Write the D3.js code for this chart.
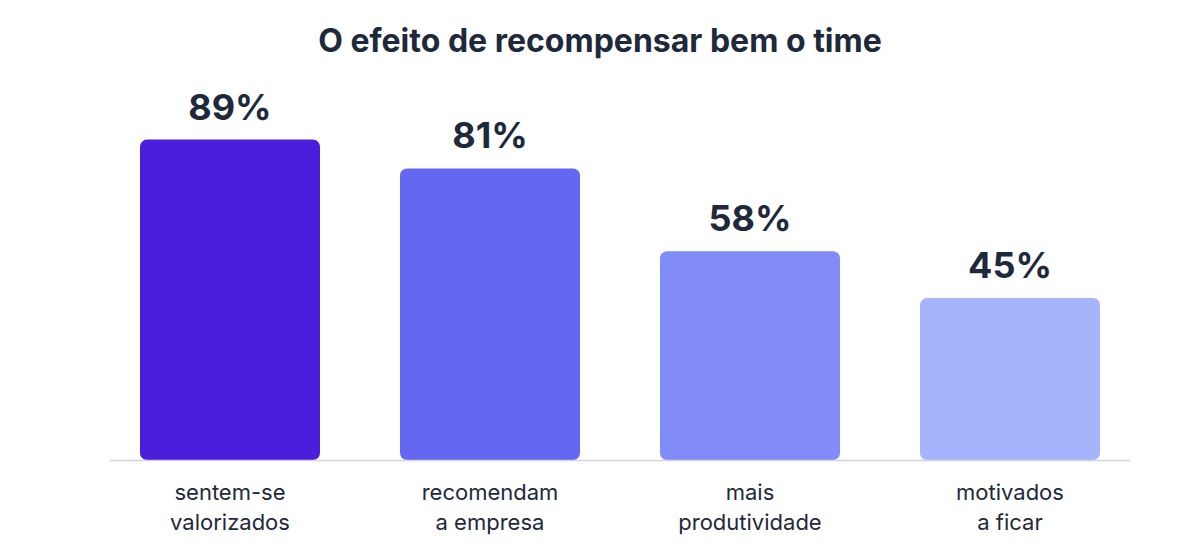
<!DOCTYPE html>
<html>
<head>
<meta charset="utf-8">
<script src="https://cdn.jsdelivr.net/npm/d3@7"></script>
<style>
  body { margin: 0; background: #fff; }
  svg { display: block; font-family: Inter, "Noto Sans", sans-serif; }
</style>
</head>
<body>
<svg id="chart" width="1200" height="560"></svg>
<script>
const categories = [["sentem-se", "valorizados"], ["recomendam", "a empresa"], ["mais", "produtividade"], ["motivados", "a ficar"]];
const values = [89, 81, 58, 45];
const colors = ["#4b1edc", "#6467f1", "#818cf8", "#a5b4fc"];

const svg = d3.select("#chart");
const baseY = 460;

const x = d3.scaleBand()
    .domain(d3.range(values.length))
    .range([110, 1130])
    .paddingInner(0.3077)
    .paddingOuter(0.1154);

const y = d3.scaleLinear().domain([0, 100]).range([baseY, 100]);

// titulo
svg.append("text")
    .attr("x", 600).attr("y", 52)
    .attr("text-anchor", "middle")
    .attr("font-size", 32).attr("font-weight", 700)
    .attr("fill", "#1e293b")
    .text("O efeito de recompensar bem o time");

svg.selectAll("rect.bar")
    .data(values)
    .join("rect")
    .attr("class", "bar")
    .attr("x", (d, i) => x(i))
    .attr("y", d => y(d))
    .attr("width", x.bandwidth())
    .attr("height", d => baseY - y(d))
    .attr("rx", 7)
    .attr("fill", (d, i) => colors[i]);

// linha base
svg.append("line")
    .attr("x1", 110).attr("x2", 1130)
    .attr("y1", baseY + 0.5).attr("y2", baseY + 0.5)
    .attr("stroke", "#d4d4dc").attr("stroke-width", 1.5);

svg.selectAll("text.val")
    .data(values)
    .join("text")
    .attr("class", "val")
    .attr("x", (d, i) => x(i) + x.bandwidth() / 2)
    .attr("y", d => y(d) - 20)
    .attr("text-anchor", "middle")
    .attr("font-size", 36).attr("font-weight", 700)
    .attr("fill", "#1e293b")
    .text(d => d + "%");

const cat = svg.selectAll("text.cat")
    .data(categories)
    .join("text")
    .attr("class", "cat")
    .attr("text-anchor", "middle")
    .attr("font-size", 22)
    .attr("fill", "#1e293b");

cat.each(function(lines, i) {
    d3.select(this).selectAll("tspan")
        .data(lines)
        .join("tspan")
        .attr("x", x(i) + x.bandwidth() / 2)
        .attr("y", (l, j) => 500 + j * 30)
        .text(l => l);
});
</script>
</body>
</html>
